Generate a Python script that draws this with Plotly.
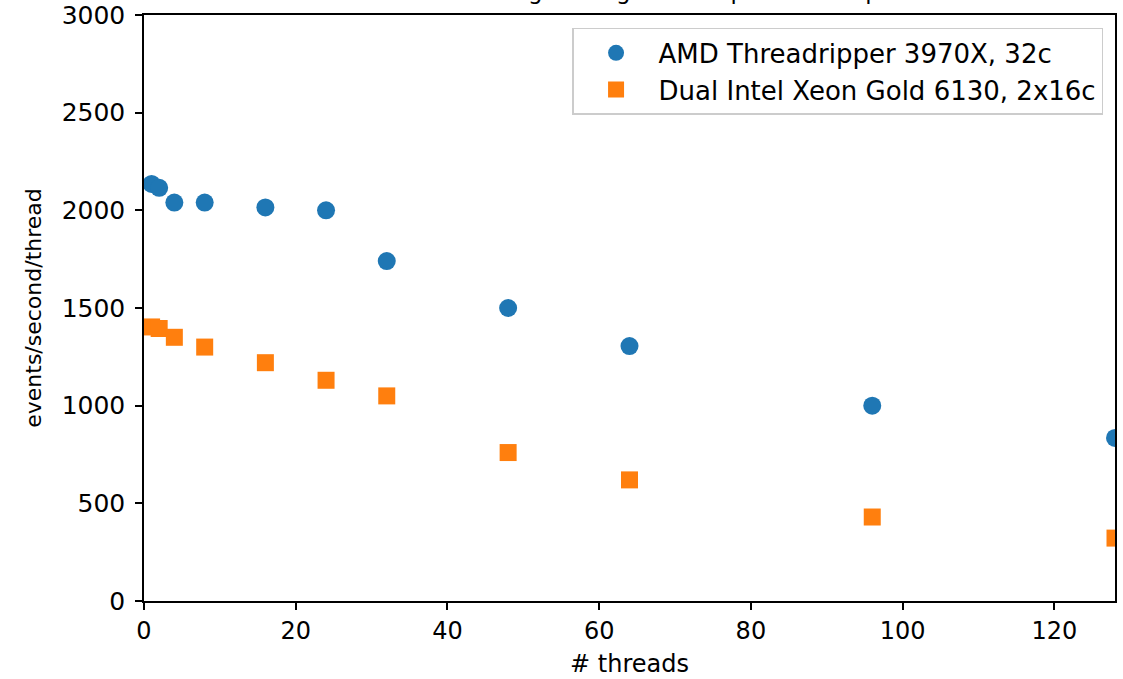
import plotly.graph_objects as go

# Threads used per run
threads = [1, 2, 4, 8, 16, 24, 32, 48, 64, 96, 128]

# Per-thread throughput (events/second/thread)
amd_3970x = [2135, 2115, 2040, 2040, 2015, 2000, 1740, 1500, 1305, 1000, 835]
xeon_6130 = [1403, 1395, 1350, 1300, 1220, 1130, 1050, 760, 620, 430, 322]

amd_label = "AMD Threadripper 3970X, 32c"
xeon_label = "Dual Intel Xeon Gold 6130, 2x16c"
chart_title = "Geant4 multi-threading scaling: events per second per thread"

x_ticks = [0, 20, 40, 60, 80, 100, 120]
y_ticks = [0, 500, 1000, 1500, 2000, 2500, 3000]

FONT = "DejaVu Sans"
TICK_SIZE = 24

fig = go.Figure()
fig.add_trace(go.Scatter(
    x=threads, y=amd_3970x, mode="markers", name=amd_label,
    legendgroup="amd",
    marker=dict(symbol="circle", size=18, color="#1f77b4", line=dict(width=0)),
))
fig.add_trace(go.Scatter(
    x=threads, y=xeon_6130, mode="markers", name=xeon_label,
    legendgroup="xeon",
    marker=dict(symbol="square", size=17, color="#ff7f0e", line=dict(width=0)),
))

axis_common = dict(
    showline=True, linecolor="black", linewidth=1.5, mirror=True,
    ticks="outside", ticklen=7, tickwidth=1.5, tickcolor="black",
    showgrid=False, zeroline=False, ticklabeloverflow="allow",
)

fig.update_xaxes(
    range=[0, 128], tickvals=x_ticks,
    tickfont=dict(family=FONT, size=TICK_SIZE, color="black"),
    title=dict(text="# threads", font=dict(family=FONT, size=TICK_SIZE, color="black"), standoff=12),
    **axis_common,
)
fig.update_yaxes(
    range=[0, 3000], tickvals=y_ticks,
    tickfont=dict(family=FONT, size=25, color="black"), ticklabelstandoff=5,
    title=dict(text="events/second/thread", font=dict(family=FONT, size=22, color="black"), standoff=14),
    **axis_common,
)

# Title sits above the plot area, running off the top of the page
fig.add_annotation(
    text=chart_title, xref="paper", yref="paper", x=0.5, y=1.0,
    xanchor="center", yanchor="bottom", yshift=9, showarrow=False,
    font=dict(family=FONT, size=23, color="black"),
)

fig.update_layout(
    width=1123, height=679,
    margin=dict(l=144, r=8, t=15, b=78, autoexpand=False),
    paper_bgcolor="white", plot_bgcolor="white",
    font=dict(family=FONT, size=TICK_SIZE, color="black"),
    showlegend=True,
    legend=dict(
        x=0.9877, xanchor="right", y=0.978, yanchor="top",
        bgcolor="rgba(255,255,255,0.8)", bordercolor="#cccccc", borderwidth=1.5,
        font=dict(family=FONT, size=26, color="black"),
        tracegroupgap=0, itemwidth=75,
    ),
)

fig.write_html("out.html")
